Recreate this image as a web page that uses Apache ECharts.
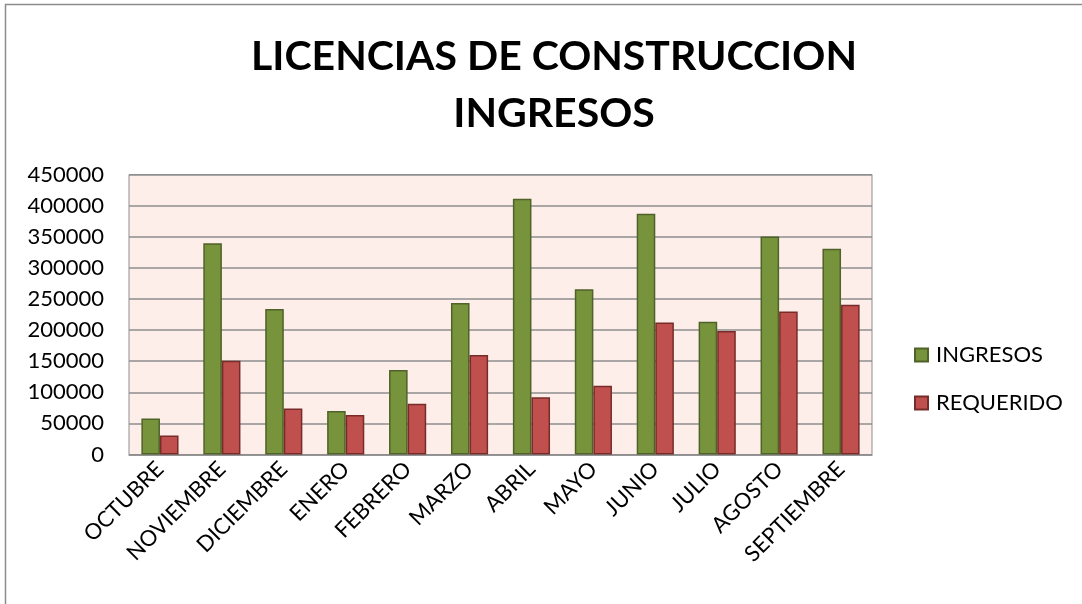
<!DOCTYPE html>
<html>
<head>
<meta charset="utf-8">
<script src="https://cdn.jsdelivr.net/npm/echarts@6/dist/echarts.min.js"></script>
<style>
  html, body { margin: 0; padding: 0; background: #ffffff; }
  #chart { width: 1082px; height: 604px; }
</style>
</head>
<body>
<div id="chart"></div>
<script>
// Monthly construction licence revenue vs. required amount
const meses = ['OCTUBRE', 'NOVIEMBRE', 'DICIEMBRE', 'ENERO', 'FEBRERO', 'MARZO',
               'ABRIL', 'MAYO', 'JUNIO', 'JULIO', 'AGOSTO', 'SEPTIEMBRE'];
const ingresos = [58000, 339500, 234000, 70000, 136000, 243500,
                  411000, 265500, 387000, 213500, 350500, 330500];
const requerido = [30500, 150500, 74000, 63500, 81500, 160000,
                   92000, 110500, 212000, 198500, 230000, 240500];
const titulo = 'LICENCIAS DE CONSTRUCCION\nINGRESOS';
const serieNombres = ['INGRESOS', 'REQUERIDO'];

const FONT = 'Lato, "Open Sans", sans-serif';

const chart = echarts.init(document.getElementById('chart'), null, { renderer: 'canvas' });

chart.setOption({
  animation: false,
  backgroundColor: '#ffffff',
  graphic: [{
    type: 'rect',
    shape: { x: 5.5, y: 4.5, width: 1090, height: 610 },
    style: { fill: 'none', stroke: '#8c8c8c', lineWidth: 1.5 },
    silent: true,
    z: 100
  }],
  title: {
    text: titulo,
    left: 549,
    top: 23,
    textAlign: 'center',
    textStyle: {
      fontFamily: FONT,
      fontWeight: 'bold',
      fontSize: 41,
      lineHeight: 57,
      color: '#000000'
    }
  },
  legend: {
    orient: 'vertical',
    left: 909,
    top: 339,
    itemWidth: 13,
    itemHeight: 13,
    itemGap: 26,
    icon: 'rect',
    textStyle: { fontFamily: FONT, fontSize: 22, color: '#000000', padding: [0, 0, 0, 3] },
    data: serieNombres
  },
  grid: {
    left: 129,
    top: 174.5,
    right: 210,
    bottom: 149.5,
    show: true,
    backgroundColor: '#fdeeea',
    borderColor: '#8e8e8e',
    borderWidth: 1,
    containLabel: false
  },
  xAxis: {
    type: 'category',
    data: meses,
    axisLine: { lineStyle: { color: '#8e8e8e', width: 1.5 } },
    axisTick: { show: false },
    axisLabel: {
      rotate: 45,
      interval: 0,
      margin: 11,
      fontFamily: FONT,
      fontSize: 22,
      color: '#000000'
    }
  },
  yAxis: {
    type: 'value',
    min: 0,
    max: 450000,
    interval: 50000,
    axisLine: { show: false },
    axisTick: { show: false },
    axisLabel: {
      margin: 25,
      fontFamily: FONT,
      fontSize: 22,
      color: '#000000',
      formatter: (v) => String(v)
    },
    splitLine: { lineStyle: { color: '#8e8e8e', width: 1.5 } }
  },
  series: [
    {
      name: serieNombres[0],
      type: 'bar',
      data: ingresos,
      barGap: '0%',
      barCategoryGap: '40%',
      itemStyle: { color: '#77933c', borderColor: '#4f6228', borderWidth: 1.5 }
    },
    {
      name: serieNombres[1],
      type: 'bar',
      data: requerido,
      barGap: '0%',
      barCategoryGap: '40%',
      itemStyle: { color: '#c0504d', borderColor: '#772c2a', borderWidth: 1.5 }
    }
  ]
});
</script>
</body>
</html>
